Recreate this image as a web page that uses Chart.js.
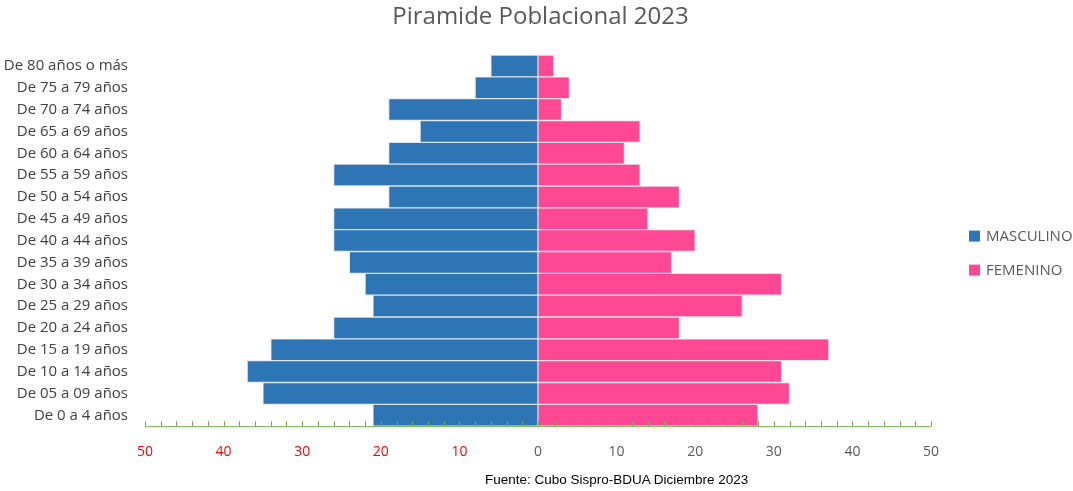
<!DOCTYPE html>
<html>
<head>
<meta charset="utf-8">
<script src="https://cdn.jsdelivr.net/npm/chart.js@4.4.0/dist/chart.umd.min.js"></script>
<style>
  html, body { margin: 0; padding: 0; background: #fff; }
  #wrap { position: relative; width: 1073px; height: 491px; }
  #fuente {
    position: absolute; left: 485px; top: 472px;
    font-family: "Liberation Sans Narrow", "Liberation Sans", Arial, sans-serif;
    font-size: 13.5px; color: #000;
  }
</style>
</head>
<body>
<div id="wrap">
  <canvas id="piramide" width="1073" height="491"></canvas>
  <div id="fuente">Fuente: Cubo Sispro-BDUA Diciembre 2023</div>
</div>
<script>
const categories = [
  "De 80 años o más", "De 75 a 79 años", "De 70 a 74 años", "De 65 a 69 años",
  "De 60 a 64 años", "De 55 a 59 años", "De 50 a 54 años", "De 45 a 49 años",
  "De 40 a 44 años", "De 35 a 39 años", "De 30 a 34 años", "De 25 a 29 años",
  "De 20 a 24 años", "De 15 a 19 años", "De 10 a 14 años", "De 05 a 09 años",
  "De 0 a 4 años"
];
const masculino = [6, 8, 19, 15, 19, 26, 19, 26, 26, 24, 22, 21, 26, 34, 37, 35, 21];
const femenino = [2, 4, 3, 13, 11, 13, 18, 14, 20, 17, 31, 26, 18, 37, 31, 32, 28];
const xTicks = [-50, -40, -30, -20, -10, 0, 10, 20, 30, 40, 50];
const chartTitle = "Piramide Poblacional 2023";

// inward minor tick marks on the green base axis
const axisMarks = {
  id: "axisMarks",
  afterDatasetsDraw(chart) {
    const { ctx, chartArea, scales } = chart;
    const x = scales.x;
    ctx.save();
    ctx.strokeStyle = "#70ad47";
    ctx.lineWidth = 1;
    ctx.beginPath();
    ctx.moveTo(x.getPixelForValue(-50), chartArea.bottom + 0.5);
    ctx.lineTo(x.getPixelForValue(50), chartArea.bottom + 0.5);
    for (let v = -50; v <= 50; v += 2) {
      const px = Math.round(x.getPixelForValue(v)) + 0.5;
      ctx.moveTo(px, chartArea.bottom);
      ctx.lineTo(px, chartArea.bottom - 5);
    }
    ctx.stroke();
    ctx.restore();
  }
};

// title centred on the whole canvas + legend on the right
const frameText = {
  id: "frameText",
  afterDraw(chart) {
    const { ctx, chartArea, width } = chart;
    ctx.save();
    ctx.font = "24px 'Open Sans', sans-serif";
    ctx.fillStyle = "#595959";
    ctx.textAlign = "center";
    ctx.textBaseline = "middle";
    ctx.fillText(chartTitle, width / 2 + 4, 17);

    const mid = (chartArea.top + chartArea.bottom) / 2;
    ctx.font = "15px 'Open Sans', sans-serif";
    ctx.textAlign = "left";
    chart.data.datasets.forEach((ds, i) => {
      const y = mid - 5 + i * 34;
      ctx.fillStyle = ds.backgroundColor;
      ctx.fillRect(chartArea.right + 38, y - 5, 11, 11);
      ctx.fillStyle = "#595959";
      ctx.fillText(ds.label, chartArea.right + 55, y + 1);
    });
    ctx.restore();
  }
};

new Chart(document.getElementById("piramide"), {
  type: "bar",
  data: {
    labels: categories,
    datasets: [
      {
        label: "MASCULINO",
        data: masculino.map((v) => -v),
        backgroundColor: "#2e75b6",
        borderColor: "#dbe4f1",
        borderWidth: 1,
        categoryPercentage: 1,
        barPercentage: 1,
      },
      {
        label: "FEMENINO",
        data: femenino,
        backgroundColor: "#ff4893",
        borderColor: "#f3e2ea",
        borderWidth: 1,
        categoryPercentage: 1,
        barPercentage: 1,
      },
    ],
  },
  options: {
    indexAxis: "y",
    responsive: false,
    animation: false,
    layout: { padding: { left: 0, right: 142, top: 55, bottom: 14 } },
    plugins: {
      title: { display: false },
      legend: { display: false },
      tooltip: { enabled: false },
    },
    scales: {
      x: {
        stacked: true,
        min: -50,
        max: 50,
        afterBuildTicks: (scale) => {
          scale.ticks = xTicks.map((v) => ({ value: v }));
        },
        grid: {
          drawTicks: false,
          color: (c) => (c.tick && c.tick.value === 0 ? "#d9d9d9" : "rgba(0,0,0,0)"),
        },
        border: { display: false },
        ticks: {
          padding: 17,
          callback: (value) => Math.abs(value),
          color: (c) => (c.tick && c.tick.value < 0 ? "#ff0000" : "#595959"),
          font: { family: "'Open Sans', sans-serif", size: 14 },
        },
      },
      y: {
        stacked: true,
        afterFit: (scale) => {
          scale.width = 145;
        },
        grid: { display: false, drawTicks: false },
        border: { display: false },
        ticks: {
          color: "#404040",
          padding: 17,
          font: { family: "'Open Sans', sans-serif", size: 15 },
        },
      },
    },
  },
  plugins: [axisMarks, frameText],
});
</script>
</body>
</html>
